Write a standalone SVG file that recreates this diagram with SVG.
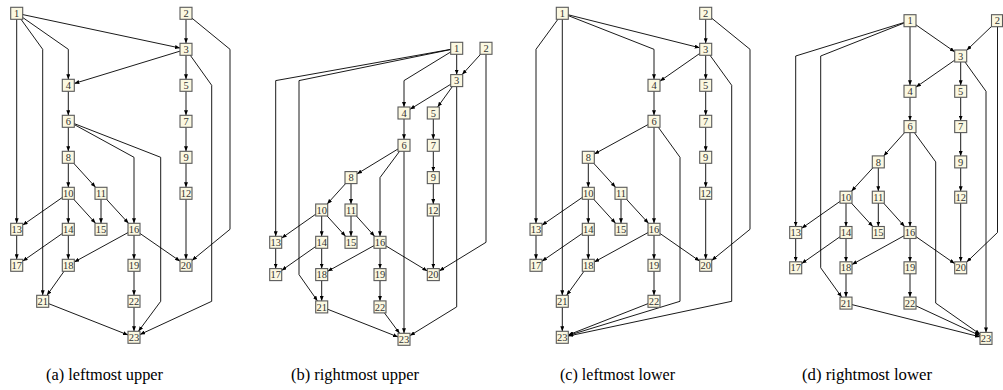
<svg xmlns="http://www.w3.org/2000/svg" width="1003" height="390" viewBox="0 0 1003 390">
<style>
.e{fill:none;stroke:#000;stroke-width:0.9;marker-end:url(#ah)}
.n rect{fill:#fbf8e1;stroke:#5a5a5a;stroke-width:1.1}
.n text{font-family:"Liberation Serif","DejaVu Serif",serif;font-size:10.5px;fill:#333;text-anchor:middle}
.cap{font-family:"Liberation Serif","DejaVu Serif",serif;font-size:16px;fill:#000;text-anchor:middle}
</style>
<defs>
<marker id="ah" markerUnits="userSpaceOnUse" markerWidth="5" markerHeight="4" viewBox="0 0 5 4" refX="5" refY="2" orient="auto">
<path d="M0,0 L5,2 L0,4 z" fill="#000"/>
</marker>
</defs>
<rect width="1003" height="390" fill="#fff"/>

<!-- Panel (a) -->
<g id="panel-a">
<g id="a-edges">
<path class="e" d="M16.7,13.3 L180,48.02"/>
<path class="e" d="M16.7,13.3 L68.3,49.3 L68.3,79.3"/>
<path class="e" d="M16.7,13.3 L16.7,223.3"/>
<path class="e" d="M16.7,13.3 L42.7,49.3 L42.7,295.3"/>
<path class="e" d="M186,13.3 L186,43.3"/>
<path class="e" d="M186,13.3 L230,49.3 L230,229.3 L192,260.4"/>
<path class="e" d="M186,49.3 L74.3,83.46"/>
<path class="e" d="M186,49.3 L186,79.3"/>
<path class="e" d="M186,49.3 L211.7,85.3 L211.7,301.3 L140,334.52"/>
<path class="e" d="M68.3,85.3 L68.3,115.3"/>
<path class="e" d="M186,85.3 L186,115.3"/>
<path class="e" d="M68.3,121.3 L68.3,151.3"/>
<path class="e" d="M68.3,121.3 L134,157.3 L134,223.3"/>
<path class="e" d="M68.3,121.3 L160.7,157.3 L160.7,301.3 L138.45,331.3"/>
<path class="e" d="M186,121.3 L186,151.3"/>
<path class="e" d="M68.3,157.3 L68.3,187.3"/>
<path class="e" d="M68.3,157.3 L95.55,187.3"/>
<path class="e" d="M186,157.3 L186,187.3"/>
<path class="e" d="M68.3,193.3 L22.7,225.11"/>
<path class="e" d="M68.3,193.3 L68.3,223.3"/>
<path class="e" d="M68.3,193.3 L95.55,223.3"/>
<path class="e" d="M101,193.3 L101,223.3"/>
<path class="e" d="M101,193.3 L128.5,223.3"/>
<path class="e" d="M186,193.3 L186,259.3"/>
<path class="e" d="M16.7,229.3 L16.7,259.3"/>
<path class="e" d="M68.3,229.3 L22.7,261.11"/>
<path class="e" d="M68.3,229.3 L68.3,259.3"/>
<path class="e" d="M134,229.3 L74.3,262.01"/>
<path class="e" d="M134,229.3 L134,259.3"/>
<path class="e" d="M134,229.3 L180,261.15"/>
<path class="e" d="M68.3,265.3 L46.97,295.3"/>
<path class="e" d="M134,265.3 L134,295.3"/>
<path class="e" d="M42.7,301.3 L128,334.93"/>
<path class="e" d="M134,301.3 L134,331.3"/>
</g>
<g id="a1" class="n"><rect x="10.7" y="7.3" width="12" height="12"/><text x="16.7" y="16.9">1</text></g>
<g id="a2" class="n"><rect x="180" y="7.3" width="12" height="12"/><text x="186" y="16.9">2</text></g>
<g id="a3" class="n"><rect x="180" y="43.3" width="12" height="12"/><text x="186" y="52.9">3</text></g>
<g id="a4" class="n"><rect x="62.3" y="79.3" width="12" height="12"/><text x="68.3" y="88.9">4</text></g>
<g id="a5" class="n"><rect x="180" y="79.3" width="12" height="12"/><text x="186" y="88.9">5</text></g>
<g id="a6" class="n"><rect x="62.3" y="115.3" width="12" height="12"/><text x="68.3" y="124.9">6</text></g>
<g id="a7" class="n"><rect x="180" y="115.3" width="12" height="12"/><text x="186" y="124.9">7</text></g>
<g id="a8" class="n"><rect x="62.3" y="151.3" width="12" height="12"/><text x="68.3" y="160.9">8</text></g>
<g id="a9" class="n"><rect x="180" y="151.3" width="12" height="12"/><text x="186" y="160.9">9</text></g>
<g id="a10" class="n"><rect x="62.3" y="187.3" width="12" height="12"/><text x="68.3" y="196.9">10</text></g>
<g id="a11" class="n"><rect x="95" y="187.3" width="12" height="12"/><text x="101" y="196.9">11</text></g>
<g id="a12" class="n"><rect x="180" y="187.3" width="12" height="12"/><text x="186" y="196.9">12</text></g>
<g id="a13" class="n"><rect x="10.7" y="223.3" width="12" height="12"/><text x="16.7" y="232.9">13</text></g>
<g id="a14" class="n"><rect x="62.3" y="223.3" width="12" height="12"/><text x="68.3" y="232.9">14</text></g>
<g id="a15" class="n"><rect x="95" y="223.3" width="12" height="12"/><text x="101" y="232.9">15</text></g>
<g id="a16" class="n"><rect x="128" y="223.3" width="12" height="12"/><text x="134" y="232.9">16</text></g>
<g id="a17" class="n"><rect x="10.7" y="259.3" width="12" height="12"/><text x="16.7" y="268.9">17</text></g>
<g id="a18" class="n"><rect x="62.3" y="259.3" width="12" height="12"/><text x="68.3" y="268.9">18</text></g>
<g id="a19" class="n"><rect x="128" y="259.3" width="12" height="12"/><text x="134" y="268.9">19</text></g>
<g id="a20" class="n"><rect x="180" y="259.3" width="12" height="12"/><text x="186" y="268.9">20</text></g>
<g id="a21" class="n"><rect x="36.7" y="295.3" width="12" height="12"/><text x="42.7" y="304.9">21</text></g>
<g id="a22" class="n"><rect x="128" y="295.3" width="12" height="12"/><text x="134" y="304.9">22</text></g>
<g id="a23" class="n"><rect x="128" y="331.3" width="12" height="12"/><text x="134" y="340.9">23</text></g>
<text class="cap" x="104.5" y="380" textLength="117" lengthAdjust="spacingAndGlyphs">(a) leftmost upper</text>
</g>

<!-- Panel (b) -->
<g id="panel-b">
<g id="b-edges">
<path class="e" d="M456.7,48.3 L456.7,74.6"/>
<path class="e" d="M456.7,48.3 L404,80.6 L404,107"/>
<path class="e" d="M456.7,48.3 L275.7,80.6 L275.7,236.3"/>
<path class="e" d="M456.7,48.3 L299,80.6 L299,274.6 L317.48,300.9"/>
<path class="e" d="M486,48.3 L462.14,74.6"/>
<path class="e" d="M486,48.3 L486,242.3 L439.3,270.92"/>
<path class="e" d="M456.7,80.6 L410,109.31"/>
<path class="e" d="M456.7,80.6 L437.63,107"/>
<path class="e" d="M456.7,80.6 L456.7,306.9 L410,335.61"/>
<path class="e" d="M404,113 L404,139.3"/>
<path class="e" d="M433.3,113 L433.3,139.3"/>
<path class="e" d="M404,145.3 L357,173.94"/>
<path class="e" d="M404,145.3 L380,177.6 L380,236.3"/>
<path class="e" d="M404,145.3 L404,333.3"/>
<path class="e" d="M433.3,145.3 L433.3,171.6"/>
<path class="e" d="M351,177.6 L327.13,204"/>
<path class="e" d="M351,177.6 L351,204"/>
<path class="e" d="M433.3,177.6 L433.3,204"/>
<path class="e" d="M321.7,210 L281.7,238.09"/>
<path class="e" d="M321.7,210 L321.7,236.3"/>
<path class="e" d="M321.7,210 L345.56,236.3"/>
<path class="e" d="M351,210 L351,236.3"/>
<path class="e" d="M351,210 L374.61,236.3"/>
<path class="e" d="M433.3,210 L433.3,268.6"/>
<path class="e" d="M275.7,242.3 L275.7,268.6"/>
<path class="e" d="M321.7,242.3 L281.7,270.39"/>
<path class="e" d="M321.7,242.3 L321.7,268.6"/>
<path class="e" d="M380,242.3 L327.7,271.28"/>
<path class="e" d="M380,242.3 L380,268.6"/>
<path class="e" d="M380,242.3 L427.3,270.96"/>
<path class="e" d="M321.7,274.6 L321.7,300.9"/>
<path class="e" d="M380,274.6 L380,300.9"/>
<path class="e" d="M321.7,306.9 L398,336.94"/>
<path class="e" d="M380,306.9 L399.56,333.3"/>
</g>
<g id="b1" class="n"><rect x="450.7" y="42.3" width="12" height="12"/><text x="456.7" y="51.9">1</text></g>
<g id="b2" class="n"><rect x="480" y="42.3" width="12" height="12"/><text x="486" y="51.9">2</text></g>
<g id="b3" class="n"><rect x="450.7" y="74.6" width="12" height="12"/><text x="456.7" y="84.2">3</text></g>
<g id="b4" class="n"><rect x="398" y="107" width="12" height="12"/><text x="404" y="116.6">4</text></g>
<g id="b5" class="n"><rect x="427.3" y="107" width="12" height="12"/><text x="433.3" y="116.6">5</text></g>
<g id="b6" class="n"><rect x="398" y="139.3" width="12" height="12"/><text x="404" y="148.9">6</text></g>
<g id="b7" class="n"><rect x="427.3" y="139.3" width="12" height="12"/><text x="433.3" y="148.9">7</text></g>
<g id="b8" class="n"><rect x="345" y="171.6" width="12" height="12"/><text x="351" y="181.2">8</text></g>
<g id="b9" class="n"><rect x="427.3" y="171.6" width="12" height="12"/><text x="433.3" y="181.2">9</text></g>
<g id="b10" class="n"><rect x="315.7" y="204" width="12" height="12"/><text x="321.7" y="213.6">10</text></g>
<g id="b11" class="n"><rect x="345" y="204" width="12" height="12"/><text x="351" y="213.6">11</text></g>
<g id="b12" class="n"><rect x="427.3" y="204" width="12" height="12"/><text x="433.3" y="213.6">12</text></g>
<g id="b13" class="n"><rect x="269.7" y="236.3" width="12" height="12"/><text x="275.7" y="245.9">13</text></g>
<g id="b14" class="n"><rect x="315.7" y="236.3" width="12" height="12"/><text x="321.7" y="245.9">14</text></g>
<g id="b15" class="n"><rect x="345" y="236.3" width="12" height="12"/><text x="351" y="245.9">15</text></g>
<g id="b16" class="n"><rect x="374" y="236.3" width="12" height="12"/><text x="380" y="245.9">16</text></g>
<g id="b17" class="n"><rect x="269.7" y="268.6" width="12" height="12"/><text x="275.7" y="278.2">17</text></g>
<g id="b18" class="n"><rect x="315.7" y="268.6" width="12" height="12"/><text x="321.7" y="278.2">18</text></g>
<g id="b19" class="n"><rect x="374" y="268.6" width="12" height="12"/><text x="380" y="278.2">19</text></g>
<g id="b20" class="n"><rect x="427.3" y="268.6" width="12" height="12"/><text x="433.3" y="278.2">20</text></g>
<g id="b21" class="n"><rect x="315.7" y="300.9" width="12" height="12"/><text x="321.7" y="310.5">21</text></g>
<g id="b22" class="n"><rect x="374" y="300.9" width="12" height="12"/><text x="380" y="310.5">22</text></g>
<g id="b23" class="n"><rect x="398" y="333.3" width="12" height="12"/><text x="404" y="342.9">23</text></g>
<text class="cap" x="355" y="380" textLength="128" lengthAdjust="spacingAndGlyphs">(b) rightmost upper</text>
</g>

<!-- Panel (c) -->
<g id="panel-c">
<g id="c-edges">
<path class="e" d="M562.3,13.3 L699.7,47.79"/>
<path class="e" d="M562.3,13.3 L654,49.3 L654,79.3"/>
<path class="e" d="M562.3,13.3 L536,49.3 L536,223.3"/>
<path class="e" d="M562.3,13.3 L562.3,295.3"/>
<path class="e" d="M705.7,13.3 L705.7,43.3"/>
<path class="e" d="M705.7,13.3 L750,49.3 L750,229.3 L711.7,260.42"/>
<path class="e" d="M705.7,49.3 L660,81.12"/>
<path class="e" d="M705.7,49.3 L705.7,79.3"/>
<path class="e" d="M705.7,49.3 L731.7,85.3 L731.7,301.3 L568.3,336.02"/>
<path class="e" d="M654,85.3 L654,115.3"/>
<path class="e" d="M705.7,85.3 L705.7,115.3"/>
<path class="e" d="M654,121.3 L594.3,154.01"/>
<path class="e" d="M654,121.3 L654,223.3"/>
<path class="e" d="M654,121.3 L680,157.3 L680,301.3 L568.3,335.46"/>
<path class="e" d="M705.7,121.3 L705.7,151.3"/>
<path class="e" d="M588.3,157.3 L588.3,187.3"/>
<path class="e" d="M588.3,157.3 L615.55,187.3"/>
<path class="e" d="M705.7,157.3 L705.7,187.3"/>
<path class="e" d="M588.3,193.3 L542,225.17"/>
<path class="e" d="M588.3,193.3 L588.3,223.3"/>
<path class="e" d="M588.3,193.3 L615.55,223.3"/>
<path class="e" d="M621,193.3 L621,223.3"/>
<path class="e" d="M621,193.3 L648.5,223.3"/>
<path class="e" d="M705.7,193.3 L705.7,259.3"/>
<path class="e" d="M536,229.3 L536,259.3"/>
<path class="e" d="M588.3,229.3 L542,261.17"/>
<path class="e" d="M588.3,229.3 L588.3,259.3"/>
<path class="e" d="M654,229.3 L594.3,262.01"/>
<path class="e" d="M654,229.3 L654,259.3"/>
<path class="e" d="M654,229.3 L699.7,261.12"/>
<path class="e" d="M588.3,265.3 L566.63,295.3"/>
<path class="e" d="M654,265.3 L654,295.3"/>
<path class="e" d="M562.3,301.3 L562.3,331.3"/>
<path class="e" d="M654,301.3 L568.3,334.94"/>
</g>
<g id="c1" class="n"><rect x="556.3" y="7.3" width="12" height="12"/><text x="562.3" y="16.9">1</text></g>
<g id="c2" class="n"><rect x="699.7" y="7.3" width="12" height="12"/><text x="705.7" y="16.9">2</text></g>
<g id="c3" class="n"><rect x="699.7" y="43.3" width="12" height="12"/><text x="705.7" y="52.9">3</text></g>
<g id="c4" class="n"><rect x="648" y="79.3" width="12" height="12"/><text x="654" y="88.9">4</text></g>
<g id="c5" class="n"><rect x="699.7" y="79.3" width="12" height="12"/><text x="705.7" y="88.9">5</text></g>
<g id="c6" class="n"><rect x="648" y="115.3" width="12" height="12"/><text x="654" y="124.9">6</text></g>
<g id="c7" class="n"><rect x="699.7" y="115.3" width="12" height="12"/><text x="705.7" y="124.9">7</text></g>
<g id="c8" class="n"><rect x="582.3" y="151.3" width="12" height="12"/><text x="588.3" y="160.9">8</text></g>
<g id="c9" class="n"><rect x="699.7" y="151.3" width="12" height="12"/><text x="705.7" y="160.9">9</text></g>
<g id="c10" class="n"><rect x="582.3" y="187.3" width="12" height="12"/><text x="588.3" y="196.9">10</text></g>
<g id="c11" class="n"><rect x="615" y="187.3" width="12" height="12"/><text x="621" y="196.9">11</text></g>
<g id="c12" class="n"><rect x="699.7" y="187.3" width="12" height="12"/><text x="705.7" y="196.9">12</text></g>
<g id="c13" class="n"><rect x="530" y="223.3" width="12" height="12"/><text x="536" y="232.9">13</text></g>
<g id="c14" class="n"><rect x="582.3" y="223.3" width="12" height="12"/><text x="588.3" y="232.9">14</text></g>
<g id="c15" class="n"><rect x="615" y="223.3" width="12" height="12"/><text x="621" y="232.9">15</text></g>
<g id="c16" class="n"><rect x="648" y="223.3" width="12" height="12"/><text x="654" y="232.9">16</text></g>
<g id="c17" class="n"><rect x="530" y="259.3" width="12" height="12"/><text x="536" y="268.9">17</text></g>
<g id="c18" class="n"><rect x="582.3" y="259.3" width="12" height="12"/><text x="588.3" y="268.9">18</text></g>
<g id="c19" class="n"><rect x="648" y="259.3" width="12" height="12"/><text x="654" y="268.9">19</text></g>
<g id="c20" class="n"><rect x="699.7" y="259.3" width="12" height="12"/><text x="705.7" y="268.9">20</text></g>
<g id="c21" class="n"><rect x="556.3" y="295.3" width="12" height="12"/><text x="562.3" y="304.9">21</text></g>
<g id="c22" class="n"><rect x="648" y="295.3" width="12" height="12"/><text x="654" y="304.9">22</text></g>
<g id="c23" class="n"><rect x="556.3" y="331.3" width="12" height="12"/><text x="562.3" y="340.9">23</text></g>
<text class="cap" x="617.5" y="380" textLength="115" lengthAdjust="spacingAndGlyphs">(c) leftmost lower</text>
</g>

<!-- Panel (d) -->
<g id="panel-d">
<g id="d-edges">
<path class="e" d="M910,20.7 L954.7,51.82"/>
<path class="e" d="M910,20.7 L910,85.3"/>
<path class="e" d="M910,20.7 L795.7,56 L795.7,226.5"/>
<path class="e" d="M910,20.7 L820.7,56 L820.7,267.8 L841.7,297.1"/>
<path class="e" d="M997.5,20.7 L966.7,50.25"/>
<path class="e" d="M997.5,20.7 L997.5,232.5 L966.7,262.05"/>
<path class="e" d="M960.7,56 L916,87.12"/>
<path class="e" d="M960.7,56 L960.7,85.3"/>
<path class="e" d="M960.7,56 L986,91.3 L986,332.4"/>
<path class="e" d="M910,91.3 L910,120.6"/>
<path class="e" d="M960.7,91.3 L960.7,120.6"/>
<path class="e" d="M910,126.6 L883.69,155.9"/>
<path class="e" d="M910,126.6 L910,226.5"/>
<path class="e" d="M910,126.6 L935.7,161.9 L935.7,303.1 L980,334.19"/>
<path class="e" d="M960.7,126.6 L960.7,155.9"/>
<path class="e" d="M878.3,161.9 L851.49,191.2"/>
<path class="e" d="M878.3,161.9 L878.3,191.2"/>
<path class="e" d="M960.7,161.9 L960.7,191.2"/>
<path class="e" d="M846,197.2 L801.7,228.29"/>
<path class="e" d="M846,197.2 L846,226.5"/>
<path class="e" d="M846,197.2 L872.81,226.5"/>
<path class="e" d="M878.3,197.2 L878.3,226.5"/>
<path class="e" d="M878.3,197.2 L904.61,226.5"/>
<path class="e" d="M960.7,197.2 L960.7,261.8"/>
<path class="e" d="M795.7,232.5 L795.7,261.8"/>
<path class="e" d="M846,232.5 L801.7,263.59"/>
<path class="e" d="M846,232.5 L846,261.8"/>
<path class="e" d="M910,232.5 L852,264.49"/>
<path class="e" d="M910,232.5 L910,261.8"/>
<path class="e" d="M910,232.5 L954.7,263.62"/>
<path class="e" d="M846,267.8 L846,297.1"/>
<path class="e" d="M910,267.8 L910,297.1"/>
<path class="e" d="M846,303.1 L980,336.89"/>
<path class="e" d="M910,303.1 L980,335.61"/>
</g>
<g id="d1" class="n"><rect x="904" y="14.7" width="12" height="12"/><text x="910" y="24.3">1</text></g>
<g id="d2" class="n"><rect x="991.5" y="14.7" width="11" height="12"/><text x="997.3" y="24.3">2</text></g>
<g id="d3" class="n"><rect x="954.7" y="50" width="12" height="12"/><text x="960.7" y="59.6">3</text></g>
<g id="d4" class="n"><rect x="904" y="85.3" width="12" height="12"/><text x="910" y="94.9">4</text></g>
<g id="d5" class="n"><rect x="954.7" y="85.3" width="12" height="12"/><text x="960.7" y="94.9">5</text></g>
<g id="d6" class="n"><rect x="904" y="120.6" width="12" height="12"/><text x="910" y="130.2">6</text></g>
<g id="d7" class="n"><rect x="954.7" y="120.6" width="12" height="12"/><text x="960.7" y="130.2">7</text></g>
<g id="d8" class="n"><rect x="872.3" y="155.9" width="12" height="12"/><text x="878.3" y="165.5">8</text></g>
<g id="d9" class="n"><rect x="954.7" y="155.9" width="12" height="12"/><text x="960.7" y="165.5">9</text></g>
<g id="d10" class="n"><rect x="840" y="191.2" width="12" height="12"/><text x="846" y="200.8">10</text></g>
<g id="d11" class="n"><rect x="872.3" y="191.2" width="12" height="12"/><text x="878.3" y="200.8">11</text></g>
<g id="d12" class="n"><rect x="954.7" y="191.2" width="12" height="12"/><text x="960.7" y="200.8">12</text></g>
<g id="d13" class="n"><rect x="789.7" y="226.5" width="12" height="12"/><text x="795.7" y="236.1">13</text></g>
<g id="d14" class="n"><rect x="840" y="226.5" width="12" height="12"/><text x="846" y="236.1">14</text></g>
<g id="d15" class="n"><rect x="872.3" y="226.5" width="12" height="12"/><text x="878.3" y="236.1">15</text></g>
<g id="d16" class="n"><rect x="904" y="226.5" width="12" height="12"/><text x="910" y="236.1">16</text></g>
<g id="d17" class="n"><rect x="789.7" y="261.8" width="12" height="12"/><text x="795.7" y="271.4">17</text></g>
<g id="d18" class="n"><rect x="840" y="261.8" width="12" height="12"/><text x="846" y="271.4">18</text></g>
<g id="d19" class="n"><rect x="904" y="261.8" width="12" height="12"/><text x="910" y="271.4">19</text></g>
<g id="d20" class="n"><rect x="954.7" y="261.8" width="12" height="12"/><text x="960.7" y="271.4">20</text></g>
<g id="d21" class="n"><rect x="840" y="297.1" width="12" height="12"/><text x="846" y="306.7">21</text></g>
<g id="d22" class="n"><rect x="904" y="297.1" width="12" height="12"/><text x="910" y="306.7">22</text></g>
<g id="d23" class="n"><rect x="980" y="332.4" width="12" height="12"/><text x="986" y="342">23</text></g>
<text class="cap" x="867" y="380" textLength="130" lengthAdjust="spacingAndGlyphs">(d) rightmost lower</text>
</g>
</svg>
